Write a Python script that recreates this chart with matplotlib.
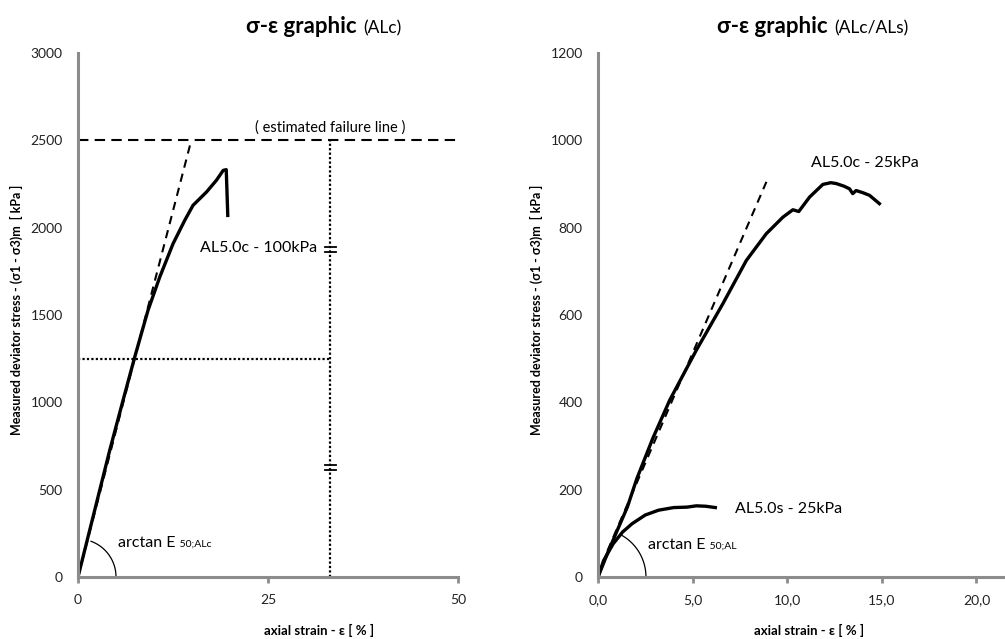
import matplotlib
matplotlib.use('Agg')
import matplotlib.pyplot as plt
import numpy as np

plt.rcParams['font.family'] = ['Lato', 'DejaVu Sans']

# ---------------- data ----------------
# left chart: AL5.0c - 100kPa
left_strain = [0, 1.97, 4.17, 5.92, 7.46, 9.21, 10.75, 12.5, 14.04, 15.13, 16.9, 18.2, 19.1, 19.5, 19.7]
left_stress = [0, 343, 725, 1011, 1259, 1527, 1717, 1908, 2042, 2128, 2204, 2271, 2328, 2332, 2070]
left_tangent_strain = [0, 14.9]
left_tangent_stress = [0, 2500]
failure_stress = 2500
half_failure_stress = 1250
failure_strain = 33.2
break_stresses = [625, 1875]
left_xticks = [0, 25, 50]
left_yticks = [0, 500, 1000, 1500, 2000, 2500, 3000]

# right chart: AL5.0c - 25kPa and AL5.0s - 25kPa
c25_strain = [0, 0.5, 1.02, 1.55, 2.05, 2.9, 3.79, 5.19, 6.6, 7.84, 8.89, 9.77, 10.3, 10.61,
              11.18, 11.88, 12.3, 12.59, 13.0, 13.29, 13.46, 13.64, 14.0, 14.35, 14.87]
c25_stress = [0, 54, 107, 160, 225, 318, 405, 519, 626, 725, 786, 824, 841, 837,
              870, 899, 903, 901, 895, 889, 878, 885, 880, 874, 855]
s25_strain = [0, 0.3, 0.8, 1.3, 1.8, 2.5, 3.2, 4.0, 4.7, 5.2, 5.7, 6.2]
s25_stress = [0, 38, 76, 103, 122, 142, 153, 159, 160, 163, 162, 159]
right_tangent_strain = [0.5, 8.9]
right_tangent_stress = [60, 905]
right_xticks = [0, 5, 10, 15, 20]
right_xticklabels = ['0,0', '5,0', '10,0', '15,0', '20,0']
right_yticks = [0, 200, 400, 600, 800, 1000, 1200]

W, H = 1005, 639
fig = plt.figure(figsize=(W / 100, H / 100), dpi=100)

spine_col = '#8c8c8c'
ylabel_txt = 'Measured deviator stress - (σ1 - σ3)m  [ kPa ]'
xlabel_txt = 'axial strain - ε [ % ]'


def style_axes(ax, xlabel_dx_px, ylabel_dx_px, width_px):
    for s in ['top', 'right']:
        ax.spines[s].set_visible(False)
    for s in ['left', 'bottom']:
        ax.spines[s].set_color(spine_col)
        ax.spines[s].set_linewidth(2.2)
    ax.tick_params(axis='y', length=0, pad=11, labelsize=10, colors='#222222')
    ax.tick_params(axis='x', length=4, width=2, color=spine_col, pad=8, labelsize=10,
                   labelcolor='#222222')
    ax.set_ylabel(ylabel_txt, fontsize=9, fontweight='bold')
    ax.yaxis.set_label_coords(-ylabel_dx_px / width_px, 0.51)
    ax.set_xlabel(xlabel_txt, fontsize=9.5, fontweight='bold')
    ax.xaxis.set_label_coords(0.5, -xlabel_dx_px / 524)


def draw_arc(ax, r_px, px_x, px_y, theta_deg):
    t = np.radians(np.linspace(0, theta_deg, 60))
    ax.plot(r_px / px_x * np.cos(t), r_px / px_y * np.sin(t), color='black', lw=0.9,
            clip_on=False)


def arctan_label(ax, x, y, sub):
    t = ax.text(x, y, 'arctan E', fontsize=11.5, va='center', ha='left')
    ax.annotate(' ' + sub, xy=(1, 0), xycoords=t, xytext=(1, 1), textcoords='offset points',
                fontsize=7.5, va='bottom', ha='left')


def title(px_split, bold, reg):
    y = 1 - 33 / H
    fig.text(px_split / W, y, bold, fontsize=16, fontweight='bold', ha='right', va='baseline')
    fig.text((px_split + 6) / W, y, reg, fontsize=12.5, ha='left', va='baseline')


# ---------------- left chart ----------------
axL = fig.add_axes([78 / W, 62 / H, 482 / W, 524 / H])
axL.set_xlim(0, 63.4)
axL.set_ylim(0, 3000)
axL.set_xticks(left_xticks)
axL.set_yticks(left_yticks)
axL.spines['bottom'].set_bounds(0, 50)
style_axes(axL, 47, 55, 482)

axL.plot([0, 50], [failure_stress, failure_stress], color='black', lw=1.5,
         dashes=(5, 3))
axL.plot([0, failure_strain], [half_failure_stress, half_failure_stress], color='black',
         lw=1.6, linestyle=(0, (1, 1)))
axL.plot([failure_strain, failure_strain], [0, failure_stress], color='black',
         lw=1.6, linestyle=(0, (1, 1)))
for b in break_stresses:
    for d in (-14, 14):
        axL.plot([failure_strain - 0.75, failure_strain + 0.75], [b + d, b + d],
                 color='black', lw=1.3)
axL.plot(left_tangent_strain, left_tangent_stress, color='black', lw=1.5, dashes=(4, 3))
axL.plot(left_strain, left_stress, color='black', lw=2.4, solid_joinstyle='round')

axL.text(failure_strain, 2576, '( estimated failure line )', fontsize=10.5, ha='center',
         va='center')
axL.text(16.0, 1883, 'AL5.0c - 100kPa', fontsize=11.5, ha='left', va='center')
draw_arc(axL, 38, 7.6, 0.1747, 70)
arctan_label(axL, 5.3, 195, '50;ALc')
title(357, 'σ-ε graphic', '(ALc)')

# ---------------- right chart ----------------
axR = fig.add_axes([598 / W, 62 / H, 422 / W, 524 / H])
axR.set_xlim(0, 22.3)
axR.set_ylim(0, 1200)
axR.set_xticks(right_xticks)
axR.set_xticklabels(right_xticklabels)
axR.set_yticks(right_yticks)
style_axes(axR, 47, 55, 422)

axR.plot(right_tangent_strain, right_tangent_stress, color='black', lw=1.5, dashes=(4, 3))
axR.plot(c25_strain, c25_stress, color='black', lw=2.4, solid_joinstyle='round')
axR.plot(s25_strain, s25_stress, color='black', lw=2.4, solid_joinstyle='round')

axR.text(11.25, 947, 'AL5.0c - 25kPa', fontsize=11.5, ha='left', va='center')
axR.text(7.22, 155, 'AL5.0s - 25kPa', fontsize=11.5, ha='left', va='center')
draw_arc(axR, 48, 18.94, 0.4367, 60)
arctan_label(axR, 2.63, 73, '50;AL')
title(828, 'σ-ε graphic', '(ALc/ALs)')

fig.savefig('out.png', dpi=100)
